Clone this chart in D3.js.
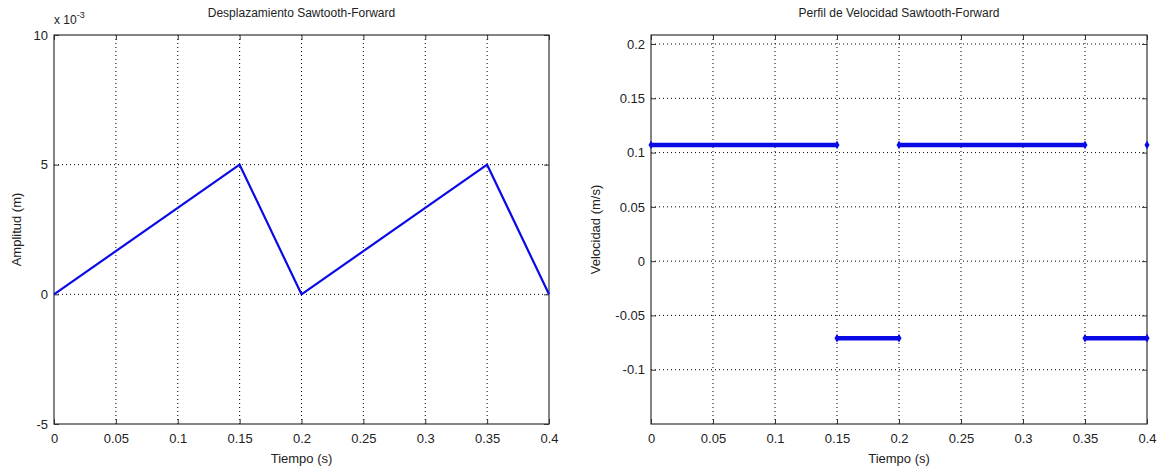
<!DOCTYPE html>
<html>
<head>
<meta charset="utf-8">
<script src="https://cdn.jsdelivr.net/npm/d3@7"></script>
<style>
  html, body { margin: 0; padding: 0; background: #fff; }
  svg text { font-family: "Liberation Sans", Arial, sans-serif; fill: #222; }
</style>
</head>
<body>
<svg id="chart" width="1165" height="468"></svg>
<script>
// Displacement profile (m)
const dispTime = [0, 0.15, 0.2, 0.35, 0.4];
const dispValue = [0, 0.005, 0, 0.005, 0];

// Velocity profile (m/s): constant segments
const velSegStart = [0, 0.15, 0.2, 0.35];
const velSegEnd = [0.15, 0.2, 0.35, 0.4];
const velSegValue = [0.107, -0.071, 0.107, -0.071];
// isolated final sample
const velLastTime = [0.4];
const velLastValue = [0.107];

const xTicks = [0, 0.05, 0.1, 0.15, 0.2, 0.25, 0.3, 0.35, 0.4];
const dispTicks = [-0.005, 0, 0.005, 0.01];
const velTicks = [-0.1, -0.05, 0, 0.05, 0.1, 0.15, 0.2];

const svg = d3.select("#chart");
const blue = "#0a0ae6";

function panel(opts) {
  const { left, right, top, bottom, yDomain, yTicks, yFmt, title, ylabel, ylabelX } = opts;
  const x = d3.scaleLinear().domain([0, 0.4]).range([left, right]);
  const y = d3.scaleLinear().domain(yDomain).range([bottom, top]);
  const g = svg.append("g");

  // dotted grid
  g.append("g").selectAll("line").data(xTicks.filter(t => t > 0 && t < 0.4)).join("line")
    .attr("x1", d => x(d)).attr("x2", d => x(d)).attr("y1", top).attr("y2", bottom)
    .attr("stroke", "#000").attr("stroke-width", 1).attr("stroke-dasharray", "1,3");
  g.append("g").selectAll("line").data(yTicks.filter(t => y(t) > top + 1 && y(t) < bottom - 1)).join("line")
    .attr("x1", left).attr("x2", right).attr("y1", d => y(d)).attr("y2", d => y(d))
    .attr("stroke", "#000").attr("stroke-width", 1).attr("stroke-dasharray", "1,3");

  // axes with inward ticks on all four sides
  const fmtX = d => d === 0 ? "0" : String(+d.toFixed(2));
  const axB = g.append("g").attr("transform", `translate(0,${bottom})`)
    .call(d3.axisBottom(x).tickValues(xTicks).tickSizeInner(-5).tickSizeOuter(0).tickPadding(10).tickFormat(fmtX));
  const axT = g.append("g").attr("transform", `translate(0,${top})`)
    .call(d3.axisTop(x).tickValues(xTicks).tickSizeInner(-5).tickSizeOuter(0).tickFormat(""));
  const axL = g.append("g").attr("transform", `translate(${left},0)`)
    .call(d3.axisLeft(y).tickValues(yTicks).tickSizeInner(-5).tickSizeOuter(0).tickPadding(10).tickFormat(yFmt));
  const axR = g.append("g").attr("transform", `translate(${right},0)`)
    .call(d3.axisRight(y).tickValues(yTicks).tickSizeInner(-5).tickSizeOuter(0).tickFormat(""));
  [axB, axT, axL, axR].forEach(a => {
    a.select(".domain").remove();
    a.selectAll(".tick line").attr("stroke", "#333");
    a.selectAll("text").style("font-size", "13px").attr("fill", "#222")
      .style("font-family", "'Liberation Sans', Arial, sans-serif");
  });
  axL.selectAll("text").attr("dx", 4);

  // box
  g.append("rect").attr("x", left).attr("y", top).attr("width", right - left).attr("height", bottom - top)
    .attr("fill", "none").attr("stroke", "#333").attr("stroke-width", 1.2);

  // title and labels
  g.append("text").attr("x", (left + right) / 2).attr("y", 17).attr("text-anchor", "middle")
    .style("font-size", "12px").text(title);
  g.append("text").attr("x", (left + right) / 2).attr("y", 463).attr("text-anchor", "middle")
    .style("font-size", "13px").text("Tiempo (s)");
  g.append("text").attr("transform", `translate(${ylabelX},${(top + bottom) / 2}) rotate(-90)`)
    .attr("text-anchor", "middle").style("font-size", "13px").text(ylabel);

  return { x, y, g };
}

// Left: displacement
const p1 = panel({
  left: 54, right: 549, top: 35, bottom: 424,
  yDomain: [-0.005, 0.01], yTicks: dispTicks,
  yFmt: d => String(Math.round(d * 1000)),
  title: "Desplazamiento Sawtooth-Forward", ylabel: "Amplitud (m)", ylabelX: 21
});
// exponent label
const expT = p1.g.append("text").attr("x", 54).attr("y", 24).style("font-size", "12px");
expT.append("tspan").text("x 10");
expT.append("tspan").attr("dy", -6).style("font-size", "9px").text("-3");

const dispPts = dispTime.map((t, i) => [t, dispValue[i]]);
p1.g.append("path").datum(dispPts)
  .attr("d", d3.line().x(d => p1.x(d[0])).y(d => p1.y(d[1])))
  .attr("fill", "none").attr("stroke", blue).attr("stroke-width", 2.2).attr("stroke-linejoin", "round");

// Right: velocity
const p2 = panel({
  left: 651, right: 1147, top: 35, bottom: 424,
  yDomain: [-0.15, 0.2083], yTicks: velTicks,
  yFmt: d => d === 0 ? "0" : String(+d.toFixed(2)),
  title: "Perfil de Velocidad Sawtooth-Forward", ylabel: "Velocidad (m/s)", ylabelX: 600
});

const segs = velSegStart.map((s, i) => ({ s, e: velSegEnd[i], v: velSegValue[i] }));
p2.g.append("g").selectAll("line").data(segs).join("line")
  .attr("x1", d => p2.x(d.s) + 1).attr("x2", d => p2.x(d.e) - 1)
  .attr("y1", d => p2.y(d.v)).attr("y2", d => p2.y(d.v))
  .attr("stroke", blue).attr("stroke-width", 4.5);
// diamond markers at segment ends
const ends = segs.flatMap(d => [[d.s, d.v], [d.e, d.v]]).concat(velLastTime.map((t, i) => [t, velLastValue[i]]));
p2.g.append("g").selectAll("path").data(ends).join("path")
  .attr("transform", d => `translate(${p2.x(d[0])},${p2.y(d[1])})`)
  .attr("d", d3.symbol(d3.symbolDiamond, 22))
  .attr("fill", blue);
</script>
</body>
</html>
